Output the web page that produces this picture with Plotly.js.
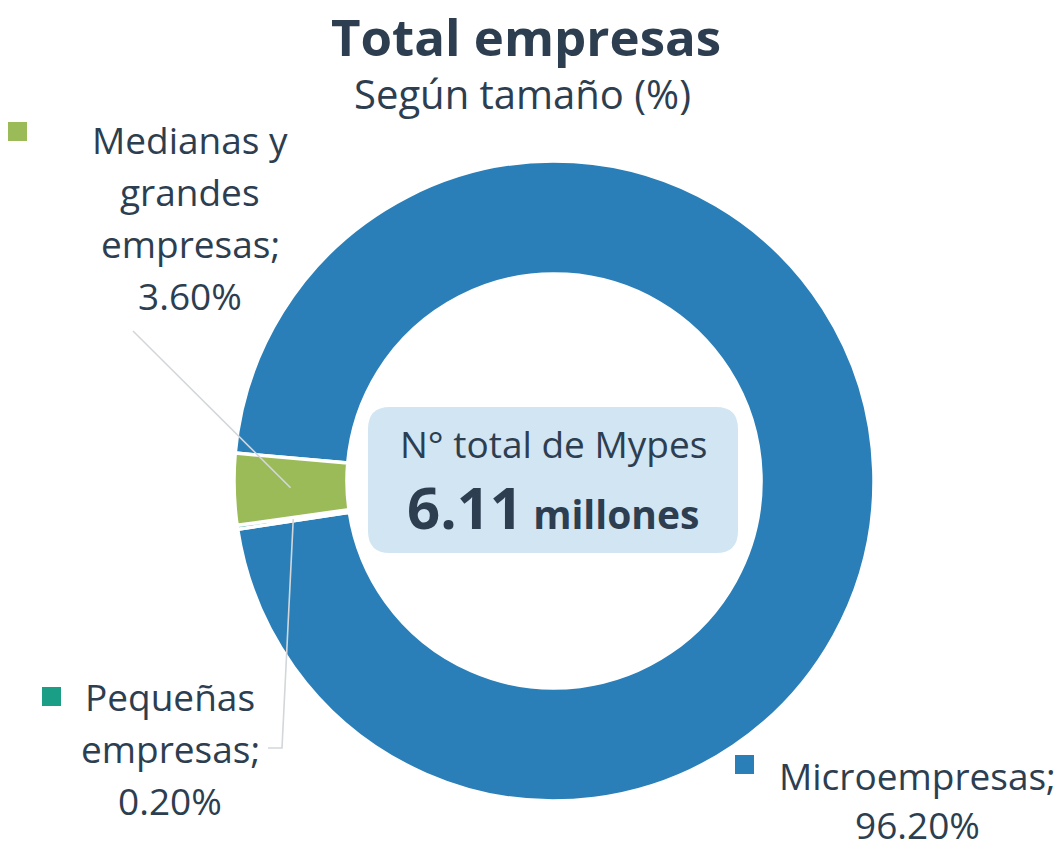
<!DOCTYPE html>
<html><head><meta charset="utf-8">
<script src="https://cdn.plot.ly/plotly-3.0.1.min.js"></script>
<style>html,body{margin:0;padding:0;background:#fff}</style>
</head><body><div id="chart" style="width:1059px;height:856px"></div>
<script>
// ---- data ----
const categories = ["Microempresas", "Pequeñas empresas", "Medianas y grandes empresas"];
const shares = [96.2, 0.2, 3.6];
const colors = ["#2a7fb8", "#1a9e85", "#9bbb59"];
const nameLines = [["Microempresas"], ["Pequeñas", "empresas"], ["Medianas y", "grandes", "empresas"]];
const chartTitle = "Total empresas";
const chartSubtitle = "Según tamaño (%)";
const centerCaption = "N° total de Mypes";
const centerValue = "6.11";
const centerUnit = "millones";

// ---- geometry (pixels) ----
const W = 1059, H = 856;
const CX = 554, CY = 481, R = 320, HOLE = 0.647;
const ROT = 275;
const TXT = "#2c3e50";
const FONT = "Open Sans";
const px = x => x / W;
const py = y => 1 - y / H;

// label placement (pixels): center x, first baseline, line pitch, square
const labelPos = [
  {x: 917, base: 789, pitch: 49, sq: [735, 755]},
  {x: 170, base: 710, pitch: 52, sq: [42, 687]},
  {x: 190, base: 153, pitch: 52, sq: [8, 122]}
];
const SQ = 19;
const LABEL_SIZE = 37;

// slice mid angles from data
const total = shares.reduce((a, b) => a + b, 0);
let cum = 0;
const mids = shares.map(v => { const m = ROT + (cum + v / 2) / total * 360; cum += v; return m; });
const midR = R * (1 + HOLE) / 2;
const anchor = i => {
  const t = mids[i] * Math.PI / 180;
  return [CX + midR * Math.sin(t), CY - midR * Math.cos(t)];
};

const annotations = [];
const shapes = [];
function addText(text, xc, base, size, bold) {
  annotations.push({
    text: bold ? "<b>" + text + "</b>" : text,
    x: px(xc), y: py(base - 0.375 * size), xref: "paper", yref: "paper",
    xanchor: "center", yanchor: "middle", showarrow: false, borderpad: 0,
    font: {family: FONT, size: size, color: TXT}
  });
}

// title & subtitle
addText(chartTitle, 526, 55, 51, true);
addText(chartSubtitle, 522, 108, 40, false);

// labels
categories.forEach((c, i) => {
  const p = labelPos[i];
  const lines = nameLines[i].slice();
  lines[lines.length - 1] += ";";
  lines.push(shares[i].toFixed(2) + "%");
  lines.forEach((ln, k) => addText(ln, p.x, p.base + k * p.pitch, LABEL_SIZE, false));
  shapes.push({type: "rect", xref: "paper", yref: "paper",
    x0: px(p.sq[0]), x1: px(p.sq[0] + SQ), y0: py(p.sq[1] + SQ), y1: py(p.sq[1]),
    fillcolor: colors[i], line: {width: 0}});
});

// leader lines
const lineStyle = {color: "#d3d7da", width: 1.6};
const a2 = anchor(2);
shapes.push({type: "path", xref: "paper", yref: "paper", layer: "above",
  path: `M ${px(133)},${py(331)} L ${px(a2[0])},${py(a2[1])}`, line: lineStyle});
const a1 = anchor(1);
shapes.push({type: "path", xref: "paper", yref: "paper", layer: "above",
  path: `M ${px(a1[0])},${py(a1[1])} L ${px(282)},${py(748)} L ${px(268)},${py(748)}`, line: lineStyle});

// centre rounded box
(function () {
  const x0 = 368, x1 = 738, y0 = 407, y1 = 553, r = 22;
  const P = (x, y) => `${px(x)},${py(y)}`;
  const path = `M ${P(x0 + r, y0)} L ${P(x1 - r, y0)} Q ${P(x1, y0)} ${P(x1, y0 + r)} L ${P(x1, y1 - r)} Q ${P(x1, y1)} ${P(x1 - r, y1)} L ${P(x0 + r, y1)} Q ${P(x0, y1)} ${P(x0, y1 - r)} L ${P(x0, y0 + r)} Q ${P(x0, y0)} ${P(x0 + r, y0)} Z`;
  shapes.push({type: "path", xref: "paper", yref: "paper", layer: "below", path: path,
    fillcolor: "#d2e5f3", line: {width: 0}});
})();

addText(centerCaption, 553, 457, 37, false);
annotations.push({
  text: `<b><span style="font-size:58px">${centerValue}</span> <span style="font-size:39px">${centerUnit}</span></b>`,
  x: px(553), y: py(528 - 22), xref: "paper", yref: "paper",
  xanchor: "center", yanchor: "middle", showarrow: false, borderpad: 0,
  font: {family: FONT, size: 39, color: TXT}
});

const trace = {
  type: "pie",
  labels: categories,
  values: shares,
  hole: HOLE,
  sort: false,
  direction: "clockwise",
  rotation: ROT,
  textinfo: "none",
  hoverinfo: "label+percent",
  marker: {colors: colors, line: {color: "#ffffff", width: 3.5}},
  domain: {x: [px(CX - R), px(CX + R)], y: [py(CY + R), py(CY - R)]},
  showlegend: false
};

Plotly.newPlot("chart", [trace], {
  width: W, height: H,
  margin: {l: 0, r: 0, t: 0, b: 0},
  paper_bgcolor: "#ffffff",
  plot_bgcolor: "#ffffff",
  showlegend: false,
  annotations: annotations,
  shapes: shapes,
  font: {family: FONT, color: TXT}
}, {displayModeBar: false, staticPlot: true});
</script></body></html>
